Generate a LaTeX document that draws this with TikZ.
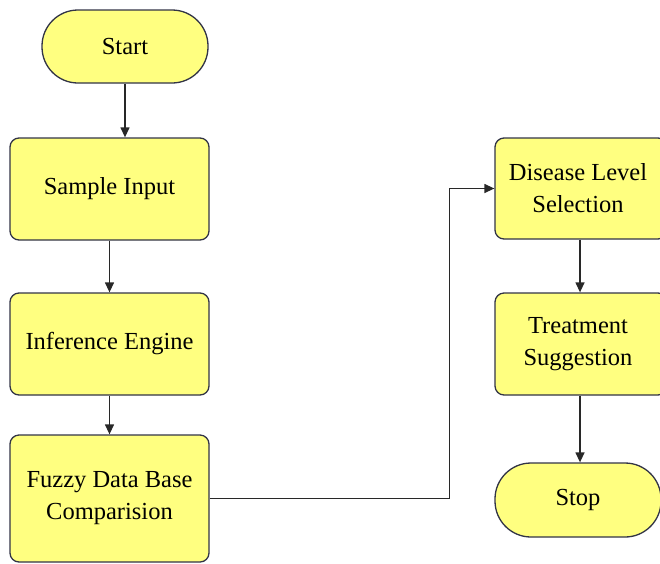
\documentclass[tikz,border=0pt]{standalone}
\usepackage{fontspec}
\setmainfont{Liberation Serif}
\usetikzlibrary{arrows.meta}
\definecolor{boxfill}{RGB}{255,255,128}
\definecolor{boxline}{RGB}{50,52,70}
\definecolor{linecol}{RGB}{40,40,40}
\tikzset{
  procbox/.style={draw=boxline, fill=boxfill, line width=1.3pt, rounded corners=9pt,
    align=center, inner sep=0pt, font=\fontsize{24.5}{32}\selectfont},
  termbox/.style={procbox, rounded corners=36pt},
  conn/.style={draw=linecol, line width=1.3pt, -{Triangle[length=10pt,width=9pt]}},
}
\begin{document}
\begin{tikzpicture}[x=1pt,y=-1pt]
\clip (0,0) rectangle (660,563);
\useasboundingbox (0,0) rectangle (660,563);
\node[termbox, minimum width=166pt, minimum height=73pt] (start) at (125,46.5) {Start};
\node[procbox, minimum width=199pt, minimum height=102pt] (sample) at (109.5,189) {Sample Input};
\node[procbox, minimum width=199pt, minimum height=102pt] (infer) at (109.5,344) {Inference Engine};
\node[procbox, minimum width=199pt, minimum height=127pt] (fuzzy) at (109.5,498.5) {Fuzzy Data Base\\Comparision};
\node[procbox, minimum width=172pt, minimum height=101pt] (disease) at (581,188.5) {\hspace*{-6pt}Disease Level\\\hspace*{-6pt}Selection};
\node[procbox, minimum width=172pt, minimum height=102pt] (treat) at (581,344) {\hspace*{-6pt}Treatment\\\hspace*{-6pt}Suggestion};
\node[termbox, minimum width=166pt, minimum height=74pt] (stop) at (578,500) {Stop};
\draw[conn] (start.south) -- (start.south |- sample.north);
\draw[conn] (sample.south) -- (infer.north);
\draw[conn] (infer.south) -- (fuzzy.north);
\draw[conn] (fuzzy.east) -- ++(240,0) |- (disease.west);
\draw[conn] ([xshift=-1pt]disease.south) -- ([xshift=-1pt]treat.north);
\draw[conn] ([xshift=-1pt]treat.south) -- ([xshift=-1pt]treat.south |- stop.north);
\end{tikzpicture}
\end{document}
